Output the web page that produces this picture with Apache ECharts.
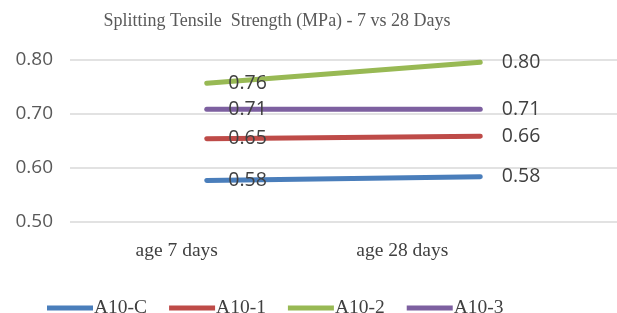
<!DOCTYPE html>
<html>
<head>
<meta charset="utf-8">
<script src="https://cdn.jsdelivr.net/npm/echarts@6/dist/echarts.min.js"></script>
<style>
  html, body { margin: 0; padding: 0; background: #fff; }
  #chart { width: 617px; height: 313px; }
</style>
</head>
<body>
<div id="chart"></div>
<script>
const categories = ['age 7 days', 'age 28 days']
const seriesNames = ['A10-C', 'A10-1', 'A10-2', 'A10-3']
const a10c = [0.577, 0.584]
const a101 = [0.654, 0.659]
const a102 = [0.757, 0.796]
const a103 = [0.709, 0.709]
const yTicks = [0.5, 0.6, 0.7, 0.8]

const colors = ['#4A7EBB', '#BE4B48', '#98B954', '#7D60A0']
const values = [a10c, a101, a102, a103]

const chart = echarts.init(document.getElementById('chart'))

const labelStyle = {
  show: true,
  position: 'right',
  distance: 21,
  color: '#404040',
  fontSize: 19.5,
  fontFamily: 'Open Sans',
  formatter: p => p.value.toFixed(2)
}

const option = {
  backgroundColor: '#fff',
  color: colors,
  animation: false,
  title: {
    text: 'Splitting Tensile  Strength (MPa) - 7 vs 28 Days',
    left: 272,
    textAlign: 'center',
    top: 7,
    textStyle: {
      fontFamily: 'Liberation Serif',
      fontWeight: 'normal',
      fontSize: 18,
      color: '#595959'
    }
  },
  grid: { left: 70, right: -9, top: 60, bottom: 91 },
  legend: {
    bottom: -10,
    left: 42,
    itemWidth: 46,
    itemHeight: 5,
    itemGap: 22,
    icon: 'rect',
    textStyle: { fontFamily: 'Liberation Serif', fontSize: 19.5, color: '#404040', padding: [0, 0, 0, -4] },
    data: seriesNames
  },
  xAxis: {
    type: 'category',
    data: categories,
    axisLine: { show: false },
    axisTick: { show: false },
    axisLabel: {
      margin: 19,
      formatter: (v, i) => i === 0 ? '{a|' + v + '}' : '{b|' + v + '}',
      rich: {
        a: { fontFamily: 'Liberation Serif', fontSize: 19.5, color: '#404040', padding: [0, 60, 0, 0] },
        b: { fontFamily: 'Liberation Serif', fontSize: 19.5, color: '#404040', padding: [0, 156, 0, 0] }
      }
    }
  },
  yAxis: {
    type: 'value',
    min: yTicks[0],
    max: yTicks[yTicks.length - 1],
    interval: 0.1,
    axisLine: { show: false },
    axisTick: { show: false },
    axisLabel: {
      margin: 17,
      color: '#595959',
      fontSize: 19,
      fontFamily: 'Open Sans',
      formatter: v => v.toFixed(2)
    },
    splitLine: { lineStyle: { color: '#d9d9d9', width: 1.5 } }
  },
  series: seriesNames.map((name, i) => ({
    name: name,
    type: 'line',
    data: values[i],
    symbol: 'circle',
    symbolSize: 1,
    showSymbol: true,
    itemStyle: { color: colors[i] },
    lineStyle: { width: 5, color: colors[i], cap: 'round' },
    label: labelStyle
  }))
}

chart.setOption(option)
</script>
</body>
</html>
